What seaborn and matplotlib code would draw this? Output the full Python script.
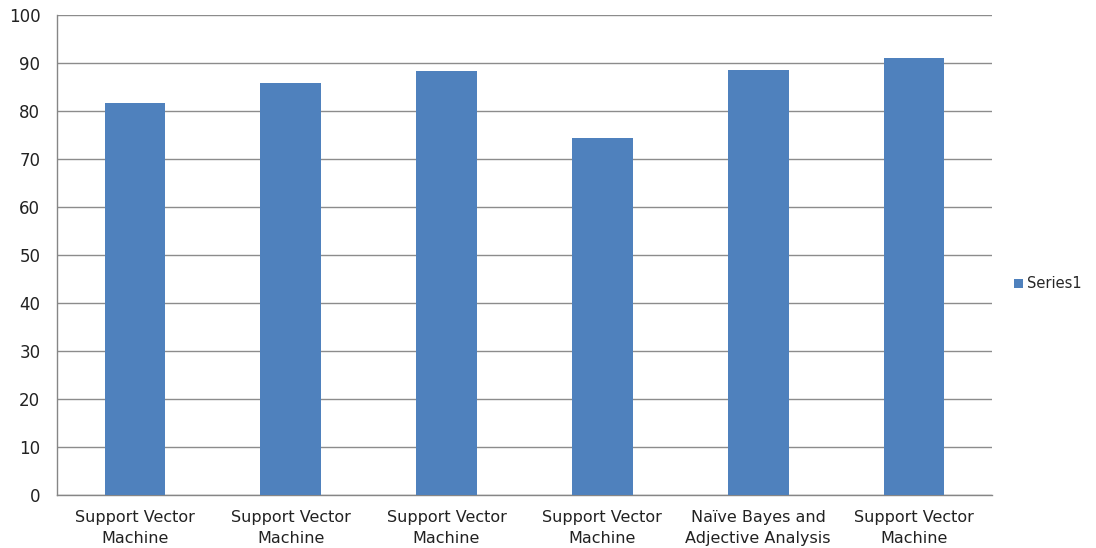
import matplotlib
matplotlib.use("Agg")
import matplotlib.pyplot as plt
import seaborn as sns
import pandas as pd
import numpy as np

categories = ["Support Vector\nMachine", "Support Vector\nMachine", "Support Vector\nMachine",
              "Support Vector\nMachine", "Naïve Bayes and\nAdjective Analysis", "Support Vector\nMachine"]
values = [81.6, 85.9, 88.3, 74.3, 88.6, 91.0]
series_name = "Series1"
y_ticks = list(range(0, 101, 10))

sns.set_theme(style="white")
plt.rcParams['font.family'] = ['DejaVu Sans']

df = pd.DataFrame({"pos": [str(i) for i in range(len(values))],
                   "value": values,
                   "series": series_name})

fig = plt.figure(figsize=(10.96, 5.48), dpi=100)
ax = fig.add_axes([0.052, 0.0967, 0.853, 0.876])
sns.barplot(data=df, x="pos", y="value", hue="series", palette=["#4F81BD"],
            width=0.39, ax=ax, saturation=1, zorder=3, linewidth=0)

ax.set_ylim(0, 100)
ax.set_xlim(-0.5, len(values) - 0.5)
ax.set_yticks(y_ticks)
ax.set_yticklabels([str(t) for t in y_ticks], fontsize=12, color="#222222")
ax.set_xticks(range(len(values)))
ax.set_xticklabels(categories, fontsize=11.5, color="#222222", linespacing=1.45)
ax.set_xticks(np.arange(-0.5, len(values), 1.0), minor=True)
ax.tick_params(axis="x", which="major", length=0, pad=11)
ax.tick_params(axis="x", which="minor", length=5, color="#868686", width=1, direction="out")
ax.tick_params(axis="y", length=4, color="#868686", width=1, direction="out", pad=8)
ax.set_xlabel("")
ax.set_ylabel("")
ax.yaxis.grid(True, color="#8C8C8C", linewidth=1, zorder=0)
ax.set_axisbelow(True)
for s in ["top", "right"]:
    ax.spines[s].set_visible(False)
for s in ["left", "bottom"]:
    ax.spines[s].set_color("#868686")
    ax.spines[s].set_linewidth(1)

ax.legend(loc="center left", bbox_to_anchor=(1.01, 0.44), frameon=False,
          fontsize=10.5, handlelength=0.6, handleheight=0.6, handletextpad=0.3)

fig.savefig("out.png", dpi=100)
